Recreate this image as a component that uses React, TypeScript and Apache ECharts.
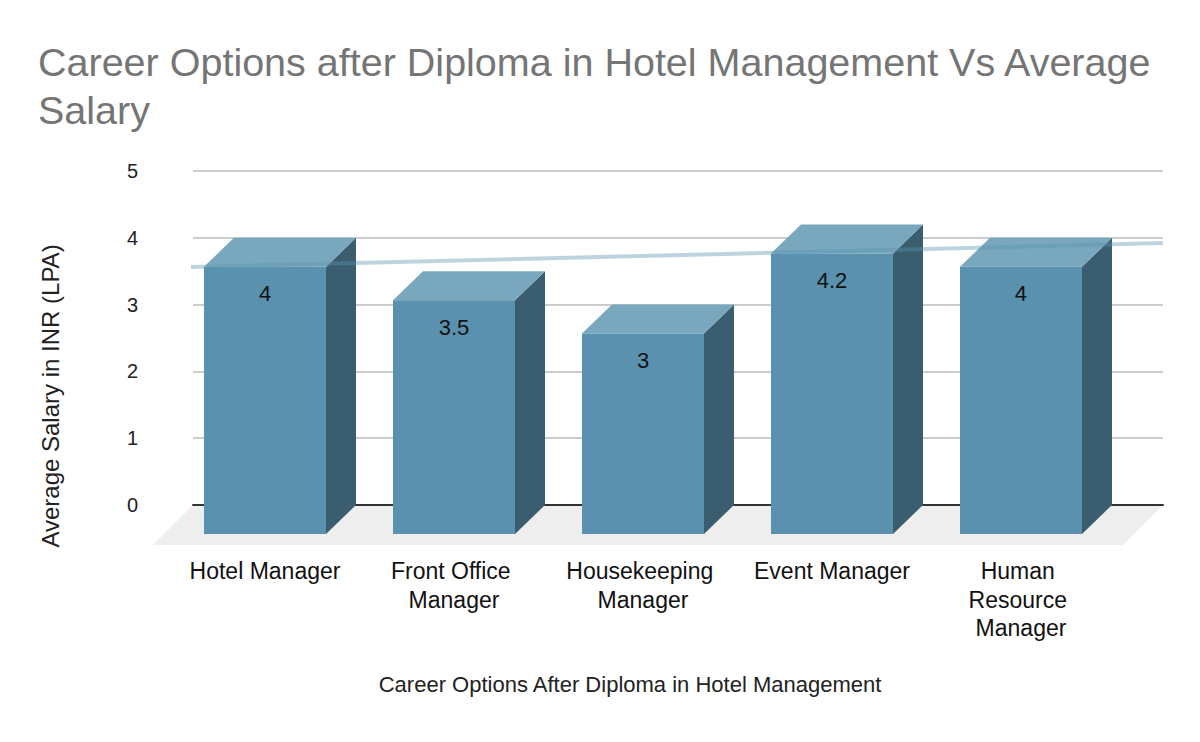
import React, { useEffect, useRef } from "react";
import * as echarts from "echarts";

const categories = [
  "Hotel Manager",
  "Front Office Manager",
  "Housekeeping Manager",
  "Event Manager",
  "Human Resource Manager",
];
const salaries = [4, 3.5, 3, 4.2, 4];
const yMin = 0;
const yMax = 5;
const yInterval = 1;

const FONT = "'Liberation Sans', Arial, sans-serif";

function linearFit(values: number[]) {
  const n = values.length;
  const xs = values.map((_, i) => i + 1);
  const mx = xs.reduce((a, b) => a + b, 0) / n;
  const my = values.reduce((a, b) => a + b, 0) / n;
  let sxy = 0;
  let sxx = 0;
  for (let i = 0; i < n; i++) {
    sxy += (xs[i] - mx) * (values[i] - my);
    sxx += (xs[i] - mx) * (xs[i] - mx);
  }
  const slope = sxy / sxx;
  const intercept = my - slope * mx;
  return (x: number) => intercept + slope * x;
}

export default function App() {
  const ref = useRef<HTMLDivElement>(null);

  useEffect(() => {
    if (!ref.current) return;
    const chart = echarts.init(ref.current, undefined, { renderer: "svg" });
    const fit = linearFit(salaries);
    const xMin = 0.4603;
    const xMax = 5.5926;
    const tStart = 0.2434;
    const tEnd = 5.5926;

    const halfW = 61;
    const dx = 30;
    const dy = 29;

    const option: any = {
      animation: false,
      backgroundColor: "#ffffff",
      title: {
        text: "Career Options after Diploma in Hotel Management Vs Average\nSalary",
        left: 38,
        top: 38,
        padding: 0,
        textStyle: {
          fontFamily: FONT,
          fontSize: 39.5,
          fontWeight: "normal",
          color: "#757575",
          lineHeight: 48,
        },
      },
      grid: { left: 193, right: 37, top: 171, bottom: 237, containLabel: false },
      xAxis: {
        type: "value",
        min: xMin,
        max: xMax,
        axisLine: { show: true, lineStyle: { color: "#333333", width: 2 } },
        axisTick: { show: false },
        axisLabel: { show: false },
        splitLine: { show: false },
      },
      yAxis: {
        type: "value",
        min: yMin,
        max: yMax,
        interval: yInterval,
        axisLine: { show: false },
        axisTick: { show: false },
        axisLabel: {
          fontFamily: FONT,
          fontSize: 20,
          color: "#222222",
          margin: 55,
        },
        splitLine: { lineStyle: { color: "#cccccc", width: 2 } },
      },
      graphic: [
        {
          type: "polygon",
          z: -1,
          shape: {
            points: [
              [193, 505],
              [1163, 505],
              [1123, 545],
              [153, 545],
            ],
          },
          style: { fill: "#eeeeee" },
        },
        {
          type: "text",
          x: 630,
          y: 684,
          style: {
            text: "Career Options After Diploma in Hotel Management",
            fontFamily: FONT,
            fontSize: 22,
            fill: "#222222",
            align: "center",
            verticalAlign: "middle",
          },
        },
        {
          type: "text",
          x: 50,
          y: 396,
          rotation: Math.PI / 2,
          style: {
            text: "Average Salary in INR (LPA)",
            fontFamily: FONT,
            fontSize: 24,
            fill: "#222222",
            align: "center",
            verticalAlign: "middle",
          },
        },
      ],
      series: [
        {
          type: "custom",
          z: 2,
          clip: false,
          data: salaries.map((v, i) => [i + 1, v]),
          renderItem: (params: any, api: any) => {
            const idx = api.value(0);
            const v = api.value(1);
            const top = api.coord([idx, v]);
            const base = api.coord([idx, 0]);
            const cx = top[0];
            const yt = top[1];
            const y0 = base[1];
            const fl = cx - halfW - dx;
            const fr = cx + halfW - dx;
            const ft = yt + dy;
            const fb = y0 + dy;
            return {
              type: "group",
              children: [
                {
                  type: "polygon",
                  shape: {
                    points: [
                      [fr, ft],
                      [cx + halfW, yt],
                      [cx + halfW, y0],
                      [fr, fb],
                    ],
                  },
                  style: { fill: "#3a5e70" },
                },
                {
                  type: "polygon",
                  shape: {
                    points: [
                      [fl, ft],
                      [cx - halfW, yt],
                      [cx + halfW, yt],
                      [fr, ft],
                    ],
                  },
                  style: { fill: "#79a8be" },
                },
                {
                  type: "rect",
                  shape: { x: fl, y: ft, width: fr - fl, height: fb - ft },
                  style: { fill: "#5991ae" },
                },
                {
                  type: "text",
                  style: {
                    text: String(salaries[params.dataIndex]),
                    x: cx - dx,
                    y: ft + 27,
                    fontFamily: FONT,
                    fontSize: 22,
                    fill: "#111111",
                    align: "center",
                    verticalAlign: "middle",
                  },
                },
                {
                  type: "text",
                  style: {
                    text: categories[params.dataIndex],
                    x: cx - dx,
                    y: y0 + 52,
                    width: 170,
                    overflow: "break",
                    lineHeight: 28.5,
                    fontFamily: FONT,
                    fontSize: 23,
                    fill: "#111111",
                    align: "center",
                    verticalAlign: "top",
                  },
                },
              ],
            };
          },
        },
        {
          type: "line",
          z: 3,
          clip: false,
          symbol: "none",
          silent: true,
          data: [
            [tStart, fit(tStart)],
            [tEnd, fit(tEnd)],
          ],
          lineStyle: { color: "rgba(91,147,176,0.4)", width: 4 },
        },
      ],
    };

    chart.setOption(option);
    return () => chart.dispose();
  }, []);

  return (
    <div
      ref={ref}
      style={{ position: "absolute", left: 0, top: 0, width: 1200, height: 742 }}
    />
  );
}
